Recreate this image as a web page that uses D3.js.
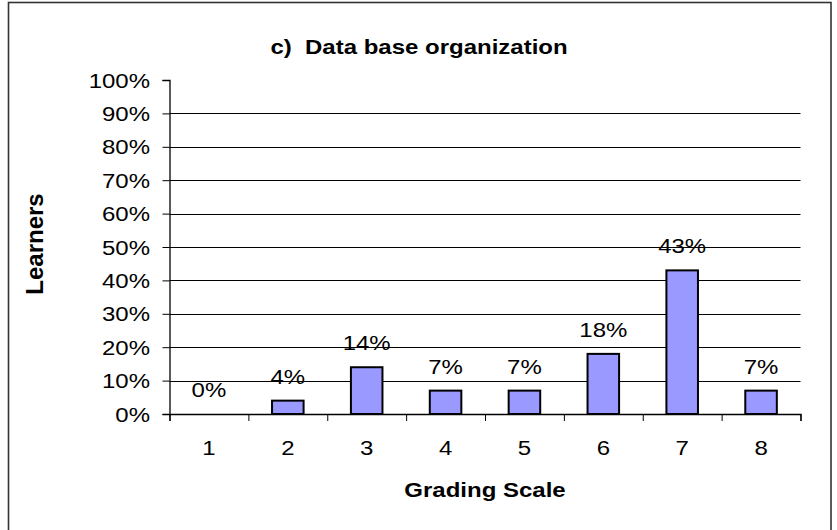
<!DOCTYPE html>
<html>
<head>
<meta charset="utf-8">
<script src="https://cdn.jsdelivr.net/npm/d3@7"></script>
<style>
  html, body { margin: 0; padding: 0; background: #fff; }
  svg { display: block; }
  text { font-family: "Liberation Sans", Arial, sans-serif; fill: #000; white-space: pre; }
</style>
</head>
<body>
<svg id="chart" width="837" height="530"></svg>
<script>
// Share of learners per grade on the grading scale
const grades = ["1", "2", "3", "4", "5", "6", "7", "8"];
const shares = [0, 4, 14, 7, 7, 18, 43, 7];
const yTicks = [0, 10, 20, 30, 40, 50, 60, 70, 80, 90, 100];
const titleText = "c)  Data base organization";
const xTitle = "Grading Scale";
const yTitle = "Learners";

const svg = d3.select("#chart");
const plot = { left: 169.5, right: 800.5, top: 80, bottom: 414 };
const squash = 0.88; // glyphs are drawn a little flatter than tall

// outer frame
svg.append("rect")
  .attr("x", 8.5).attr("y", 2.5)
  .attr("width", 822.5).attr("height", 540)
  .attr("fill", "#fff").attr("stroke", "#333").attr("stroke-width", 1.6);

const x = d3.scaleBand().domain(grades).range([plot.left, plot.right]).paddingInner(0.6).paddingOuter(0.3);
const xEdge = d3.scaleLinear().domain([0, grades.length]).range([plot.left, plot.right]);
const y = d3.scaleLinear().domain([0, 100]).range([plot.bottom, plot.top]);

function label(g, px, py, str, opts = {}) {
  return g.append("g").attr("transform", `translate(${px},${py}) scale(1,${squash})`)
    .append("text")
    .attr("text-anchor", opts.anchor || "middle")
    .attr("xml:space", "preserve")
    .style("font-size", (opts.size || 24) + "px")
    .style("font-weight", opts.bold ? "bold" : "normal")
    .text(str);
}

// gridlines
svg.append("g").selectAll("line")
  .data(yTicks.filter(v => v > 0 && v < 100))
  .join("line")
  .attr("x1", plot.left).attr("x2", plot.right)
  .attr("y1", d => Math.round(y(d)) + 0.5).attr("y2", d => Math.round(y(d)) + 0.5)
  .attr("stroke", "#000").attr("stroke-width", 1);

// y axis
const yAxis = d3.axisLeft(y).tickValues(yTicks).tickSize(7).tickFormat("");
const gy = svg.append("g").attr("transform", `translate(${plot.left},0)`).call(yAxis);
gy.select(".domain").attr("stroke", "#000").attr("stroke-width", 1.3);
gy.selectAll(".tick line").attr("stroke", "#000");
const yl = svg.append("g");
yTicks.forEach(v => label(yl, 150, y(v) + 7.5, v + "%", { anchor: "end" }));

// bars
svg.append("g").selectAll("rect")
  .data(grades.map((g, i) => ({ g, v: shares[i] })).filter(d => d.v > 0))
  .join("rect")
  .attr("x", d => x(d.g)).attr("width", x.bandwidth())
  .attr("y", d => y(d.v)).attr("height", d => y(0) - y(d.v))
  .attr("fill", "#9999FF").attr("stroke", "#000").attr("stroke-width", 2);

// x axis with ticks at category boundaries
const xAxis = d3.axisBottom(xEdge).tickValues(d3.range(0, grades.length + 1)).tickSize(7).tickFormat("");
const gx = svg.append("g").attr("transform", `translate(0,${plot.bottom})`).call(xAxis);
gx.select(".domain").attr("stroke", "#000").attr("stroke-width", 1.3);
gx.selectAll(".tick line").attr("stroke", "#000");
const xl = svg.append("g");
grades.forEach(g => label(xl, x(g) + x.bandwidth() / 2, 455, g));

// value labels
const vl = svg.append("g");
grades.forEach((g, i) => label(vl, x(g) + x.bandwidth() / 2, y(shares[i]) - 17, shares[i] + "%"));

// titles
label(svg, 419, 53.5, titleText, { bold: true });
label(svg, 485, 497, xTitle, { bold: true });
svg.append("text")
  .attr("transform", "translate(43,244) rotate(-90)")
  .attr("text-anchor", "middle")
  .style("font-size", "24px").style("font-weight", "bold")
  .text(yTitle);
</script>
</body>
</html>
